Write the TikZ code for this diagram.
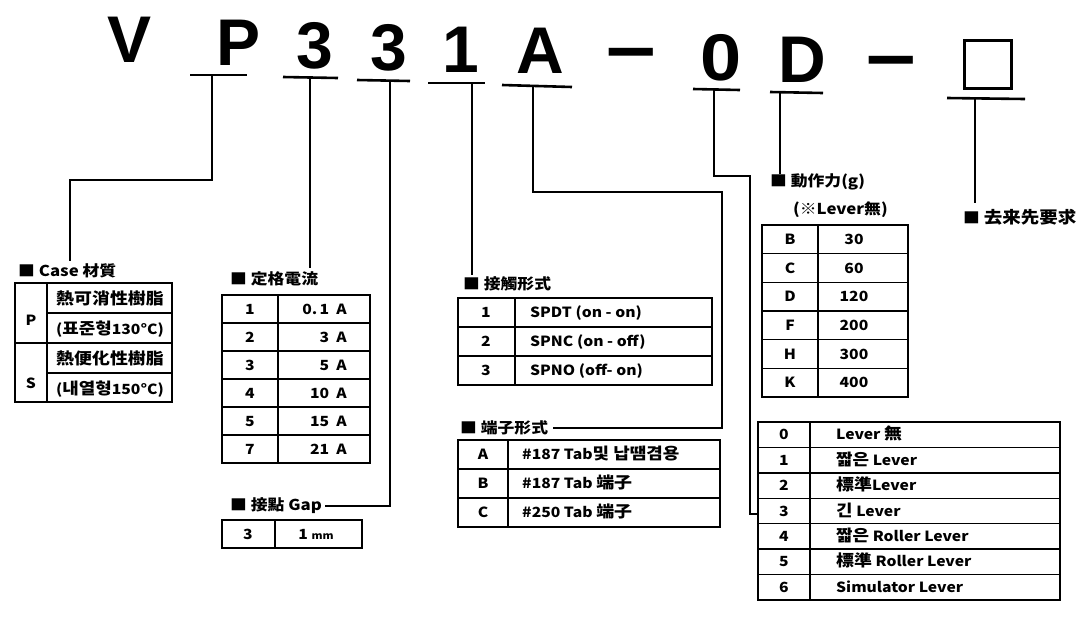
\documentclass[tikz,border=0pt]{standalone}
\usepackage{fontspec}
\newfontfamily\kr{Noto Sans CJK KR}
\newfontfamily\krw{Noto Sans CJK KR}[FakeStretch=1.12]
\newfontfamily\hdr{Liberation Sans}
\newcommand\Kbig[1]{{\fontsize{16}{18}\selectfont #1}}
\tikzset{
 conn/.style={line width=1.4pt},
 uline/.style={line width=2.6pt},
 tbl/.style={line width=1.3pt},
 hdrtxt/.style={font=\hdr\bfseries\fontsize{66}{66}\selectfont, inner sep=0pt, anchor=base},
 lbl/.style={font=\krw\bfseries\fontsize{15}{18}\selectfont, inner sep=0pt, anchor=west},
 cell/.style={font=\krw\bfseries\fontsize{14}{16}\selectfont, inner sep=0pt, anchor=base},
 cellw/.style={cell, anchor=base west},
 cellr/.style={cell, anchor=base east},
}
\begin{document}
\begin{tikzpicture}[x=1pt,y=-1pt]
\useasboundingbox (0,0) rectangle (1087,622);
\fill[white] (0,0) rectangle (1087,622);

% ---------- header ----------
\node[hdrtxt] (hV)  at (130,62) {V};
\node[hdrtxt] (hP)  at (239,65) {P};
\node[hdrtxt] (h3a) at (315,68) {3};
\node[hdrtxt] (h3b) at (389,70) {3};
\node[hdrtxt] (h1)  at (461,72) {1};
\node[hdrtxt] (hA)  at (540,73) {A};
\node[hdrtxt] (hd1) at (631,73) {\scalebox{1.35}[1.2]{–}};
\node[hdrtxt] (h0)  at (721,80) {\scalebox{1.12}[1]{0}};
\node[hdrtxt] (hD)  at (802,82) {D};
\node[hdrtxt] (hd2) at (891,81) {\scalebox{1.35}[1.2]{–}};
\node[draw, line width=3.5pt, minimum width=47pt, minimum height=48pt, inner sep=0pt] (hbox) at (988,64.5) {};

% underlines
\coordinate (aP1) at (190,75);  \coordinate (aP2) at (247,75);
\coordinate (a3a1) at (283,77); \coordinate (a3a2) at (338,78);
\coordinate (a3b1) at (357,80); \coordinate (a3b2) at (410,81);
\coordinate (a11) at (428,83);  \coordinate (a12) at (485,83);
\coordinate (aA1) at (502,85);  \coordinate (aA2) at (572,87);
\coordinate (a01) at (693,89);  \coordinate (a02) at (740,90);
\coordinate (aD1) at (770,92);  \coordinate (aD2) at (823,93);
\coordinate (aB1) at (947,98);  \coordinate (aB2) at (1025,99);
\foreach \u in {P,3a,3b,A,0,D,B} {\draw[uline] (a\u1) -- (a\u2);}
\draw[uline] (a11) -- (a12);

% ---------- labels ----------
\node[lbl] (case)  at (18,271)  {■ Case 材質};
\node[lbl] (rate)  at (230,279) {■ 定格電流};
\node[lbl] (gap)   at (230,506) {■ 接點 Gap};
\node[lbl] (cont)  at (463,284) {■ 接觸形式};
\node[lbl] (term)  at (460,428) {■ 端子形式};
\node[lbl] (force) at (770,182) {■ 動作力(g)};
\node[lbl] (forcesub) at (793,210) {(※Lever無)};
\node[lbl] (req)   at (963,217) {■ {\fontsize{16.5}{18}\selectfont 去来先要求}};

% ---------- connectors ----------
\coordinate (uP) at (212,75);  \coordinate (kP) at (70,180);
\coordinate (u3a) at (310,77);
\coordinate (u3b) at (390,80);
\coordinate (u1) at (472,83);
\coordinate (uA) at (533,86);  \coordinate (kA) at (722,192);
\coordinate (u0) at (714,89);  \coordinate (k0) at (750,176);
\coordinate (uD) at (780,92);
\coordinate (uB) at (975,98);
\coordinate (lv3) at (758,514);

\draw[conn] (uP) |- (kP) -- ([yshift=3pt]kP |- case.north);
\draw[conn] (u3a) -- ([yshift=4pt]u3a |- rate.north);
\draw[conn] (u3b) |- ([xshift=3pt]gap.east);
\draw[conn] (u1) -- ([yshift=2pt]u1 |- cont.north);
\draw[conn] (uA) |- (kA) |- ([xshift=5pt]term.east);
\draw[conn] (u0) |- (k0) |- (lv3);
\draw[conn] (uD) -- (uD |- force.north);
\draw[conn] (uB) -- ([yshift=6pt]uB |- req.north);

% ---------- Case table ----------
\draw[tbl] (15,283) rectangle (172,402);
\draw[tbl] (47,283) -- (47,402);
\draw[tbl] (15,343) -- (172,343);
\draw[tbl] (47,313) -- (172,313);
\draw[tbl] (47,373) -- (172,373);
\node[cell] (cP) at (31,325) {P};
\node[cell] (cS) at (31,388) {S};
\node[cell] (c1) at (110,304) {\Kbig{熱可消性樹脂}};
\node[cell] (c2) at (110,334) {(\Kbig{표준형}130°C)};
\node[cell] (c3) at (110,364) {\Kbig{熱便化性樹脂}};
\node[cell] (c4) at (110,394) {(\Kbig{내열형}150°C)};

% ---------- rating table ----------
\draw[tbl] (222,295) rectangle (370,463);
\draw[tbl] (278,295) -- (278,463);
\foreach \yy in {323,351,379,407,435} {\draw[tbl] (222,\yy) -- (370,\yy);}
\foreach \k/\v/\yy in {1/0.\,1/314, 2/3/342, 3/5/370, 4/10/398, 5/15/426, 7/21/454} {
  \node[cell] (r\k) at (250,\yy) {\k};
  \node[cellr] (rv\k) at (347,\yy) {\v\ \ A};
}

% ---------- gap table ----------
\draw[tbl] (222,520) rectangle (362,548);
\draw[tbl] (275,520) -- (275,548);
\node[cell] (g1) at (248,539) {3};
\node[cell] (g2) at (316,539) {1 {\fontsize{10}{12}\selectfont mm}};

% ---------- contact table ----------
\draw[tbl] (458,298) rectangle (712,385);
\draw[tbl] (515,298) -- (515,385);
\draw[tbl] (458,327) -- (712,327);
\draw[tbl] (458,356) -- (712,356);
\node[cell] (k1) at (486,317.5) {1};
\node[cell] (k2) at (486,346.5) {2};
\node[cell] (k3) at (486,375.5) {3};
\node[cellw] (kv1) at (530,317.5) {SPDT\ (on - on)};
\node[cellw] (kv2) at (530,346.5) {SPNC\ (on - off)};
\node[cellw] (kv3) at (530,375.5) {SPNO\ (off- on)};

% ---------- terminal table ----------
\draw[tbl] (458,440) rectangle (720,527);
\draw[tbl] (508,440) -- (508,527);
\draw[tbl] (458,469) -- (720,469);
\draw[tbl] (458,498) -- (720,498);
\node[cell] (t1) at (483,459.5) {A};
\node[cell] (t2) at (483,488.5) {B};
\node[cell] (t3) at (483,517.5) {C};
\node[cellw] (tv1) at (522,459.5) {\#187 Tab\Kbig{및 납땜겸용}};
\node[cellw] (tv2) at (522,488.5) {\#187 Tab \Kbig{端子}};
\node[cellw] (tv3) at (522,517.5) {\#250 Tab \Kbig{端子}};

% ---------- force table ----------
\draw[tbl] (762,225) rectangle (908,397);
\draw[tbl] (818,225) -- (818,397);
\foreach \yy in {253.7,282.3,311,339.7,368.3} {\draw[tbl] (762,\yy) -- (908,\yy);}
\foreach \k/\v/\yy in {B/30/244.3, C/60/273, D/120/301.7, F/200/330.3, H/300/359, K/400/387.7} {
  \node[cell] (f\k) at (790,\yy) {\k};
  \node[cell] (fv\k) at (854,\yy) {\v};
}

% ---------- lever table ----------
\draw[tbl] (758,422) rectangle (1060,600);
\draw[tbl] (810,422) -- (810,600);
\foreach \yy in {447.4,472.9,498.3,523.7,549.1,574.6} {\draw[tbl] (758,\yy) -- (1060,\yy);}
\node[cell] (l0) at (784,439.7) {0};
\node[cell] (l1) at (784,465.1) {1};
\node[cell] (l2) at (784,490.6) {2};
\node[cell] (l3) at (784,516) {3};
\node[cell] (l4) at (784,541.4) {4};
\node[cell] (l5) at (784,566.9) {5};
\node[cell] (l6) at (784,592.3) {6};
\node[cellw] (lv0) at (836,439.7) {Lever \Kbig{無}};
\node[cellw] (lv1) at (836,465.1) {\Kbig{짧은} Lever};
\node[cellw] (lv2) at (836,490.6) {\Kbig{標準}Lever};
\node[cellw] (lvv3) at (836,516) {\Kbig{긴} Lever};
\node[cellw] (lv4) at (836,541.4) {\Kbig{짧은} Roller Lever};
\node[cellw] (lv5) at (836,566.9) {\Kbig{標準} Roller Lever};
\node[cellw] (lv6) at (836,592.3) {Simulator Lever};
\end{tikzpicture}
\end{document}
